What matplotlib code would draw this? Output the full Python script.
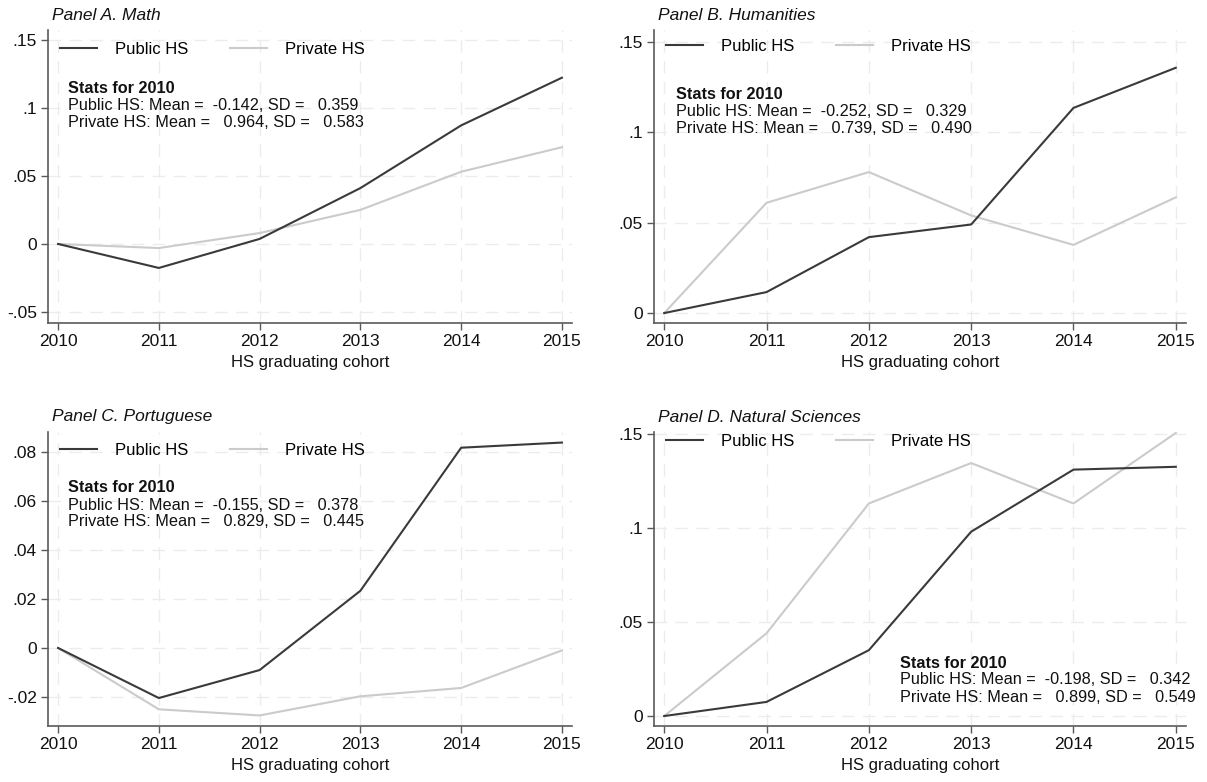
import matplotlib
matplotlib.use("Agg")
import matplotlib.pyplot as plt
from matplotlib.ticker import FuncFormatter
from matplotlib.transforms import ScaledTranslation

plt.rcParams['font.family'] = ['Liberation Sans', 'DejaVu Sans']

years = [2010, 2011, 2012, 2013, 2014, 2015]

math_public = [0.0, -0.0176, 0.0037, 0.041, 0.087, 0.122]
math_private = [0.0, -0.003, 0.008, 0.025, 0.053, 0.071]

hum_public = [0.0, 0.0116, 0.042, 0.049, 0.1135, 0.1357]
hum_private = [0.0, 0.061, 0.078, 0.054, 0.0377, 0.064]

port_public = [0.0, -0.0204, -0.009, 0.0233, 0.0816, 0.0837]
port_private = [0.0, -0.025, -0.0275, -0.0197, -0.0163, -0.001]

nat_public = [0.0, 0.0075, 0.035, 0.098, 0.131, 0.1325]
nat_private = [0.0, 0.044, 0.113, 0.1345, 0.113, 0.1505]

titles = ["Panel A. Math", "Panel B. Humanities",
          "Panel C. Portuguese", "Panel D. Natural Sciences"]

# 2010 baseline stats: (public mean, public sd, private mean, private sd)
stats_2010 = [
    (-0.142, 0.359, 0.964, 0.583),
    (-0.252, 0.329, 0.739, 0.490),
    (-0.155, 0.378, 0.829, 0.445),
    (-0.198, 0.342, 0.899, 0.549),
]

yticks = [
    [-0.05, 0, 0.05, 0.1, 0.15],
    [0, 0.05, 0.1, 0.15],
    [-0.02, 0, 0.02, 0.04, 0.06, 0.08],
    [0, 0.05, 0.1, 0.15],
]
ylims = [(-0.058, 0.157), (-0.0055, 0.1566), (-0.0318, 0.088), (-0.0053, 0.151)]

# layout in pixels: (left, top, right, bottom)
boxes = [(48, 30, 572, 323), (654, 30, 1186, 323),
         (48, 432, 572, 726), (654, 432, 1186, 726)]
legend_dy = [21, 18, 20, 11]
stats_pos = [(20, 57), (22, 63), (20, 55), (246, 230)]

W, H = 1207, 782
DPI = 100

PUB_COLOR = "#3a3a3a"
PRIV_COLOR = "#cbcbcb"
AXIS_COLOR = "#5a5a5a"
TEXT_COLOR = "#111111"


def stata_fmt(v, pos):
    if abs(v) < 1e-12:
        return "0"
    return ("%g" % v).replace("0.", ".")


def px_offset(ax, fig, dx, dy):
    # transform anchored at the axes top-left corner, shifted by pixels
    return ax.transAxes + ScaledTranslation(dx / DPI, -dy / DPI, fig.dpi_scale_trans)


def px_text(ax, fig, dx, dy, s, **kw):
    return ax.text(0, 1, s, transform=px_offset(ax, fig, dx, dy), **kw)


fig = plt.figure(figsize=(W / DPI, H / DPI), dpi=DPI)

series = [(math_public, math_private), (hum_public, hum_private),
          (port_public, port_private), (nat_public, nat_private)]

for i, (pub, priv) in enumerate(series):
    l, t, r, b = boxes[i]
    ax = fig.add_axes([l / W, 1 - b / H, (r - l) / W, (b - t) / H])

    ax.plot(years, pub, color=PUB_COLOR, lw=1.5, label="Public HS", zorder=3)
    ax.plot(years, priv, color=PRIV_COLOR, lw=1.5, label="Private HS", zorder=2)

    ax.set_xlim(2009.9, 2015.1)
    ax.set_ylim(*ylims[i])
    ax.set_xticks(years)
    ax.set_yticks(yticks[i])
    ax.yaxis.set_major_formatter(FuncFormatter(stata_fmt))

    ax.grid(True, color="#ececec", lw=1.0, ls=(0, (9, 6)), zorder=0)
    for side in ("top", "right"):
        ax.spines[side].set_visible(False)
    for side in ("left", "bottom"):
        ax.spines[side].set_color(AXIS_COLOR)
        ax.spines[side].set_linewidth(1.2)
    ax.tick_params(direction="out", length=5, width=1.0, color=AXIS_COLOR,
                   labelsize=12.5, labelcolor=TEXT_COLOR, pad=3)

    ax.set_xlabel("HS graduating cohort", fontsize=12, labelpad=4, color=TEXT_COLOR)

    px_text(ax, fig, 4, -15, titles[i], fontsize=12.5, style="italic",
            ha="left", va="center", color=TEXT_COLOR)

    ax.legend(loc="upper left", ncol=2, frameon=False, borderaxespad=0,
              borderpad=0, handlelength=2.2, handletextpad=1.1,
              columnspacing=2.5, prop={"size": 12},
              bbox_to_anchor=(0, 1),
              bbox_transform=px_offset(ax, fig, 12, legend_dy[i] - 9))

    pm, psd, vm, vsd = stats_2010[i]
    sx, sy = stats_pos[i]
    px_text(ax, fig, sx, sy + 1, "Stats for 2010", fontsize=11.7, weight="bold",
            ha="left", va="center", color=TEXT_COLOR)
    px_text(ax, fig, sx, sy + 18,
            "Public HS: Mean =  %.3f, SD =   %.3f" % (pm, psd),
            fontsize=11.7, ha="left", va="center", color=TEXT_COLOR)
    px_text(ax, fig, sx, sy + 35,
            "Private HS: Mean =   %.3f, SD =   %.3f" % (vm, vsd),
            fontsize=11.7, ha="left", va="center", color=TEXT_COLOR)

fig.savefig("out.png", dpi=DPI)
